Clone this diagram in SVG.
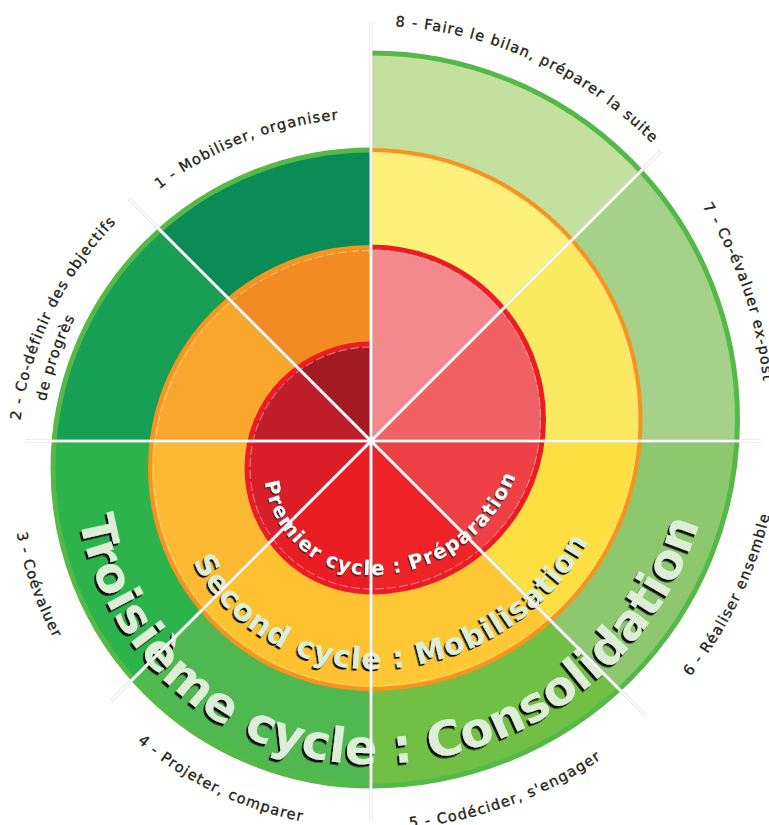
<svg xmlns="http://www.w3.org/2000/svg" width="769" height="825" viewBox="0 0 769 825">
<style>
.lbl{font-family:"DejaVu Sans","Liberation Sans",sans-serif;font-size:14.5px;letter-spacing:1.2px;fill:#231f20;stroke:#231f20;stroke-width:0.35px}
.cyc{font-family:"DejaVu Sans","Liberation Sans",sans-serif;font-weight:bold}
.pale{fill:#dcefd6}
.halo{stroke:#dedede;stroke-width:3.2;fill:none}
.div{stroke:#ffffff;stroke-width:1.9;fill:none}
.edge{fill:none;stroke-linecap:butt}
</style>
<defs>
<filter id="sh3" x="-10%" y="-10%" width="120%" height="120%"><feDropShadow dx="-2" dy="2.5" stdDeviation="0.4" flood-color="#111111" flood-opacity="1"/></filter>
<filter id="sh2" x="-10%" y="-10%" width="120%" height="120%"><feDropShadow dx="-1.5" dy="2" stdDeviation="0.3" flood-color="#111111" flood-opacity="1"/></filter>
<filter id="sh1" x="-10%" y="-10%" width="120%" height="120%"><feDropShadow dx="-1" dy="1.5" stdDeviation="0.3" flood-color="#222222" flood-opacity="0.8"/></filter>
<path id="r1" d="M371,344 A124,124 0 0 0 247,468 A124,124 0 0 0 371,592 A172.5,172.5 0 0 0 543.5,419.5 A172.5,172.5 0 0 0 371,247 Z"/>
<path id="r2" d="M371,247 A221,221 0 0 0 150,468 A221,221 0 0 0 371,689 A269.5,269.5 0 0 0 640.5,419.5 A269.5,269.5 0 0 0 371,150 L371,247 A172.5,172.5 0 0 1 543.5,419.5 A172.5,172.5 0 0 1 371,592 A124,124 0 0 1 247,468 A124,124 0 0 1 371,344 Z"/>
<path id="r3" d="M371,150 A318,318 0 0 0 53,468 A318,318 0 0 0 371,786 A366.5,366.5 0 0 0 737.5,419.5 A366.5,366.5 0 0 0 371,53 L371,150 A269.5,269.5 0 0 1 640.5,419.5 A269.5,269.5 0 0 1 371,689 A221,221 0 0 1 150,468 A221,221 0 0 1 371,247 Z"/>
<clipPath id="w1"><polygon points="371,441 -336.1,-266.1 371,-559"/></clipPath>
<clipPath id="w2"><polygon points="371,441 -629,441 -336.1,-266.1"/></clipPath>
<clipPath id="w3"><polygon points="371,441 -336.1,1148.1 -629,441"/></clipPath>
<clipPath id="w4"><polygon points="371,441 371,1441 -336.1,1148.1"/></clipPath>
<clipPath id="w5"><polygon points="371,441 1078.1,1148.1 371,1441"/></clipPath>
<clipPath id="w6"><polygon points="371,441 1371,441 1078.1,1148.1"/></clipPath>
<clipPath id="w7"><polygon points="371,441 1078.1,-266.1 1371,441"/></clipPath>
<clipPath id="w8"><polygon points="371,441 371,-559 1078.1,-266.1"/></clipPath>
<path id="lp1" d="M21,468 A350,350 0 0 1 371,118"/>
<path id="lp2a" d="M17,468 A354,354 0 0 1 371,114"/>
<path id="lp2b" d="M39,468 A332,332 0 0 1 371,136"/>
<path id="lp34" d="M371,108 A360,360 0 0 0 11,468 A360,360 0 0 0 371,828"/>
<path id="lp56" d="M371,829.5 A410,410 0 0 0 781,419.5 A410,410 0 0 0 371,9.5"/>
<path id="lp78" d="M371,25.5 A394,394 0 0 1 765,419.5 A394,394 0 0 1 371,813.5"/>
<path id="cp1" d="M264,468 A107,107 0 0 0 371,575 A155.5,155.5 0 0 0 526.5,419.5"/>
<path id="cp2" d="M170,468 A201,201 0 0 0 371,669 A249.5,249.5 0 0 0 620.5,419.5"/>
<path id="cp3" d="M75,468 A296,296 0 0 0 371,764 A344.5,344.5 0 0 0 715.5,419.5"/>
</defs>
<rect width="769" height="825" fill="#ffffff"/>

<g id="sector-1">
<use href="#r1" fill="#a21b20" clip-path="url(#w1)"/>
<use href="#r2" fill="#f28b21" clip-path="url(#w1)"/>
<use href="#r3" fill="#0b8b56" clip-path="url(#w1)"/>
<text class="lbl"><textPath href="#lp1" startOffset="420" text-anchor="middle">1 - Mobiliser, organiser</textPath></text>
</g>
<g id="sector-2">
<use href="#r1" fill="#bf1e2a" clip-path="url(#w2)"/>
<use href="#r2" fill="#f8a62c" clip-path="url(#w2)"/>
<use href="#r3" fill="#179f56" clip-path="url(#w2)"/>
<text class="lbl"><textPath href="#lp2a" startOffset="160" text-anchor="middle">2 - Co-définir des objectifs</textPath></text>
<text class="lbl"><textPath href="#lp2b" startOffset="112" text-anchor="middle">de progrès</textPath></text>
</g>
<g id="sector-3">
<use href="#r1" fill="#d81f2a" clip-path="url(#w3)"/>
<use href="#r2" fill="#fcb934" clip-path="url(#w3)"/>
<use href="#r3" fill="#2db34b" clip-path="url(#w3)"/>
<text class="lbl"><textPath href="#lp34" startOffset="687" text-anchor="middle">3 - Coévaluer</textPath></text>
</g>
<g id="sector-4">
<use href="#r1" fill="#ea1d25" clip-path="url(#w4)"/>
<use href="#r2" fill="#fec130" clip-path="url(#w4)"/>
<use href="#r3" fill="#4fb850" clip-path="url(#w4)"/>
<text class="lbl"><textPath href="#lp34" startOffset="969" text-anchor="middle">4 - Projeter, comparer</textPath></text>
</g>
<g id="sector-5">
<use href="#r1" fill="#ed2327" clip-path="url(#w5)"/>
<use href="#r2" fill="#fec733" clip-path="url(#w5)"/>
<use href="#r3" fill="#71bf44" clip-path="url(#w5)"/>
<text class="lbl"><textPath href="#lp56" startOffset="142" text-anchor="middle">5 - Codécider, s'engager</textPath></text>
</g>
<g id="sector-6">
<use href="#r1" fill="#ef4045" clip-path="url(#w6)"/>
<use href="#r2" fill="#fddf42" clip-path="url(#w6)"/>
<use href="#r3" fill="#8dc86e" clip-path="url(#w6)"/>
<text class="lbl"><textPath href="#lp56" startOffset="457" text-anchor="middle">6 - Réaliser ensemble</textPath></text>
</g>
<g id="sector-7">
<use href="#r1" fill="#f06164" clip-path="url(#w7)"/>
<use href="#r2" fill="#fbe962" clip-path="url(#w7)"/>
<use href="#r3" fill="#a6d18b" clip-path="url(#w7)"/>
<text class="lbl"><textPath href="#lp78" startOffset="393.5">7 - Co-évaluer ex-post</textPath></text>
</g>
<g id="sector-8">
<use href="#r1" fill="#f3898c" clip-path="url(#w8)"/>
<use href="#r2" fill="#fbf17b" clip-path="url(#w8)"/>
<use href="#r3" fill="#c4e09f" clip-path="url(#w8)"/>
<text class="lbl"><textPath href="#lp78" startOffset="169" text-anchor="middle">8 - Faire le bilan, préparer la suite</textPath></text>
</g>

<g id="borders">
<path class="edge" stroke="#55b947" stroke-width="5" d="M371,150 A318,318 0 0 0 53,468 A318,318 0 0 0 371,786 A366.5,366.5 0 0 0 737.5,419.5 A366.5,366.5 0 0 0 371,53"/>
<path class="edge" stroke="#f7941d" stroke-width="4" d="M371,247 A221,221 0 0 0 150,468 A221,221 0 0 0 371,689 A269.5,269.5 0 0 0 640.5,419.5 A269.5,269.5 0 0 0 371,150"/>
<path class="edge" stroke="#fbd9a0" stroke-width="0.8" stroke-dasharray="9 3" d="M371,250.5 A217.5,217.5 0 0 0 153.5,468 A217.5,217.5 0 0 0 371,685.5 A266,266 0 0 0 637,419.5 A266,266 0 0 0 371,153.5"/>
<path class="edge" stroke="#ed1c24" stroke-width="5" d="M371,344 A124,124 0 0 0 247,468 A124,124 0 0 0 371,592 A172.5,172.5 0 0 0 543.5,419.5 A172.5,172.5 0 0 0 371,247"/>
<path class="edge" stroke="#f4b0ae" stroke-width="0.8" stroke-dasharray="9 3" d="M371,347 A121,121 0 0 0 250,468 A121,121 0 0 0 371,589 A169.5,169.5 0 0 0 540.5,419.5 A169.5,169.5 0 0 0 371,250"/>
</g>

<g id="cycle-3">
<text class="cyc pale" font-size="48" letter-spacing="0.4" filter="url(#sh3)"><textPath href="#cp3" startOffset="475.5" text-anchor="middle">Troisième cycle : Consolidation</textPath></text>
</g>
<g id="cycle-2">
<text class="cyc pale" font-size="30" letter-spacing="0.9" filter="url(#sh2)"><textPath href="#cp2" startOffset="339" text-anchor="middle">Second cycle : Mobilisation</textPath></text>
</g>
<g id="cycle-1">
<text class="cyc" fill="#ffffff" font-size="20" letter-spacing="1.2" filter="url(#sh1)"><textPath href="#cp1" startOffset="184.6" text-anchor="middle">Premier cycle : Préparation</textPath></text>
</g>

<g id="connectors">
<line class="halo" x1="371" y1="22" x2="371" y2="820"/>
<line class="halo" x1="26" y1="441" x2="761" y2="441"/>
<line class="halo" x1="129" y1="199" x2="645.5" y2="715.5"/>
<line class="halo" x1="661" y1="151" x2="111" y2="701"/>
<line class="div" x1="371" y1="22" x2="371" y2="820"/>
<line class="div" x1="26" y1="441" x2="761" y2="441"/>
<line class="div" x1="129" y1="199" x2="645.5" y2="715.5"/>
<line class="div" x1="661" y1="151" x2="111" y2="701"/>
</g>
</svg>
